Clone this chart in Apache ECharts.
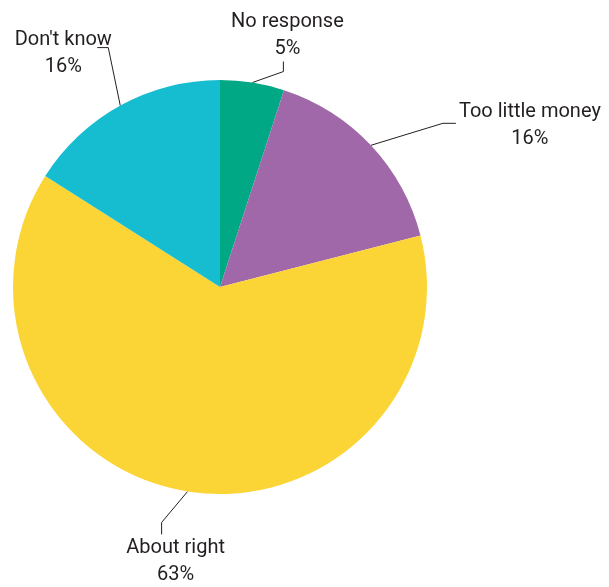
<!DOCTYPE html>
<html><head><meta charset="utf-8">
<script src="https://cdn.jsdelivr.net/npm/echarts@6/dist/echarts.min.js"></script>
<style>html,body{margin:0;padding:0;background:#fff}#c{width:609px;height:587px}</style>
</head><body><div id="c"></div>
<script>
const categories = ["No response", "Too little money", "About right", "Don't know"];
const values = [5, 16, 63, 16];
const colors = ["#00a886", "#a068a8", "#fbd535", "#16bdd0"];

// leader-line / label offsets relative to the slice edge point (style only)
const layoutCfg = [
  { bend: [31, -11], end: [31, -21], label: [35, -47] },
  { bend: [72, -22], end: [85, -22], label: [159, -20] },
  { bend: [-26, 31], end: [-26, 43], label: [-12, 70] },
  { bend: [-12, -58], end: [-23, -58], label: [-57, -52] }
];

const chart = echarts.init(document.getElementById('c'), null, { renderer: 'canvas' });
chart.setOption({
  animation: false,
  color: colors,
  series: [{
    type: 'pie',
    center: [220, 287],
    radius: [0, 207],
    startAngle: 90,
    clockwise: true,
    data: categories.map((n, i) => ({ name: n, value: values[i] })),
    label: {
      show: true,
      formatter: p => p.name + '\n' + p.value + '%',
      fontFamily: 'Roboto',
      fontSize: 20,
      lineHeight: 27,
      color: '#231f20',
      align: 'center',
      overflow: 'none',
      width: 200
    },
    labelLine: {
      show: true,
      length: 20,
      length2: 10,
      lineStyle: { color: '#231f20', width: 1 }
    },
    emphasis: { disabled: true },
    labelLayout: function (params) {
      const cfg = layoutCfg[params.dataIndex];
      const e = params.labelLinePoints[0];
      return {
        x: e[0] + cfg.label[0],
        y: e[1] + cfg.label[1],
        align: 'center',
        verticalAlign: 'middle',
        labelLinePoints: [
          [e[0], e[1]],
          [e[0] + cfg.bend[0], e[1] + cfg.bend[1]],
          [e[0] + cfg.end[0], e[1] + cfg.end[1]]
        ]
      };
    }
  }]
});
</script>
</body></html>
